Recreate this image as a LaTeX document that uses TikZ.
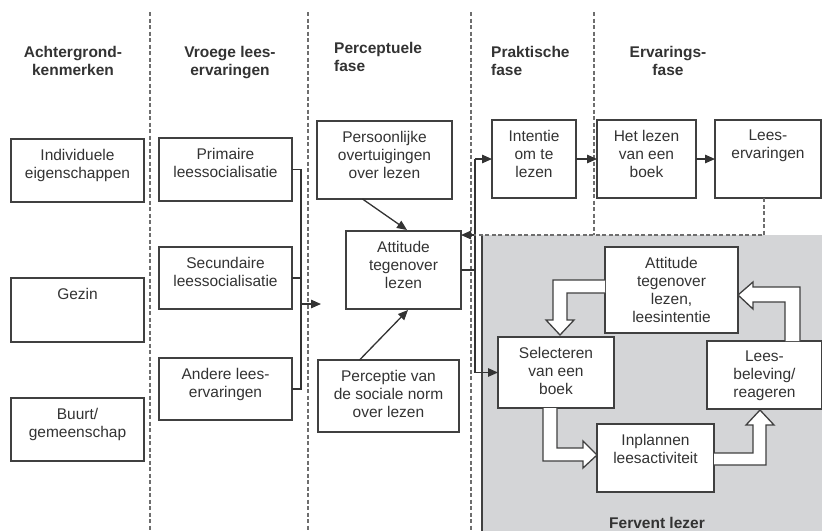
\documentclass[tikz,border=0pt]{standalone}
\usepackage{fontspec}
\setmainfont{Liberation Sans}
\usetikzlibrary{arrows.meta}
\definecolor{ink}{HTML}{333333}
\definecolor{frame}{HTML}{404040}
\definecolor{sep}{HTML}{6E6E6E}
\definecolor{panel}{HTML}{D4D5D7}

% box with its text set near the top: name, x1, y1, x2, y2, text
\newcommand\panelbox[6]{%
  \node[box, minimum width={(#4-#2)*1pt}, minimum height={(#5-#3)*1pt}]
    (#1) at ({(#2+#4)/2},{(#3+#5)/2}) {};
  \node[txt] at ([yshift=-10pt]#1.north) {#6};}

\begin{document}
\begin{tikzpicture}[x=1pt,y=-1pt,
  box/.style={draw=frame, line width=1.5pt, fill=white, inner sep=0pt, outer sep=0pt},
  txt/.style={anchor=north, align=center, inner sep=0pt, text=ink,
    font=\fontsize{15.5}{18}\selectfont},
  head/.style={anchor=north, inner sep=0pt, text=ink,
    font=\fontsize{15.5}{18}\selectfont\bfseries},
  sepline/.style={draw=sep, line width=1.4pt, dash pattern=on 4pt off 2.5pt},
  link/.style={draw=ink, line width=1.3pt},
  arr/.style={link, -{Triangle[length=10pt,width=8.5pt]}},
  blockarrow/.style={draw=frame, line width=1.3pt, fill=white, line join=miter},
]
\useasboundingbox (0,0) rectangle (822,531);
\clip (0,0) rectangle (822,531);

% shaded panel of the fervent reader
\fill[panel] (482,235) rectangle (822,531);
\draw[frame, line width=2pt] (482,235) -- (482,531);

% column separators
\foreach \x in {150,308,471} \draw[sepline] (\x,12) -- (\x,531);
\draw[sepline] (594,12) -- (594,235);

% column headings
\node[head, align=center] at (73,46) {Achtergrond-\\kenmerken};
\node[head, align=center] at (230,46) {Vroege lees-\\ervaringen};
\node[head, align=left, anchor=north west] at (334,42) {Perceptuele\\fase};
\node[head, align=left, anchor=north west] at (491,46) {Praktische\\fase};
\node[head, align=center] at (668,46) {Ervarings-\\fase};

% background characteristics
\panelbox{ind}{11}{139}{144}{202}{Individuele\\eigenschappen}
\panelbox{gez}{11}{278}{144}{342}{Gezin}
\panelbox{buu}{11}{398}{144}{461}{Buurt/\\gemeenschap}

% early reading experiences
\panelbox{prim}{159}{138}{292}{201}{Primaire\\leessocialisatie}
\panelbox{sec}{159}{247}{292}{309}{Secundaire\\leessocialisatie}
\panelbox{and}{159}{358}{292}{420}{Andere lees-\\ervaringen}

% perceptual phase
\panelbox{pers}{317}{121}{452}{199}{Persoonlijke\\overtuigingen\\over lezen}
\panelbox{att}{346}{231}{461}{309}{Attitude\\tegenover\\lezen}
\panelbox{perc}{318}{360}{459}{432}{Perceptie van\\de sociale norm\\over lezen}

% practical and experience phase
\panelbox{int}{492}{120}{576}{198}{Intentie\\om te\\lezen}
\panelbox{hetl}{597}{120}{696}{198}{Het lezen\\van een\\boek}
\panelbox{lees}{715}{120}{821}{198}{Lees-\\ervaringen}

% cycle of the fervent reader
\panelbox{att2}{605}{247}{738}{333}{Attitude\\tegenover\\lezen,\\leesintentie}
\panelbox{sel}{498}{337}{614}{408}{Selecteren\\van een\\boek}
\panelbox{bel}{707}{341}{822}{409}{Lees-\\beleving/\\reageren}
\panelbox{inp}{597}{424}{714}{492}{Inplannen\\leesactiviteit}

\node[head, anchor=base] (fl) at (657,528) {Fervent lezer};

% bracket gathering the early experiences
\coordinate (brk) at (301,304);
\coordinate (brkend) at (321,304);
\draw[link] (prim.east) -| (brk |- and.east) -- (and.east);
\draw[link] (sec.east) -- (sec.east -| brk);
\draw[arr] (brk) -- (brkend);

% beliefs and norm feed the attitude
\draw[arr] (pers.south) ++(-22,0) coordinate (ps) (ps) -- (407,230);
\draw[arr] (perc.north) ++(-29,0) coordinate (pn) (pn) -- (408,310);

% attitude to intention and to selecting a book
\coordinate (hub) at (475,0);
\draw[link] (att.east) -- (att.east -| hub);
\draw[link] (int.west -| hub) -- (sel.west -| hub);
\draw[arr] (int.west -| hub) -- (int.west);
\draw[arr] (sel.west -| hub) -- (sel.west);

% practical and experience chain
\draw[arr] (int.east) -- (hetl.west);
\draw[arr] (hetl.east) -- (lees.west);

% feedback of reading experiences
\draw[sepline] (lees.south -| 764,0) -- (764,235) -- (474,235);
\draw[arr] (474,235) -- (att.east |- 0,235);

% hollow block arrows of the cycle
\draw[blockarrow] (att2.west |- 0,280) -- (553,280) -- (553,320) -- (546,320)
  -- (560,335) -- (574,320) -- (567,320) -- (567,293) -- (att2.west |- 0,293);
\draw[blockarrow] (sel.south -| 543,0) -- (543,461) -- (583,461) -- (583,468)
  -- (inp.west |- 0,455) -- (583,441) -- (583,448) -- (557,448) -- (sel.south -| 557,0);
\draw[blockarrow] (inp.east |- 0,465) -- (766,465) -- (766,425) -- (774,425)
  -- (760,410) -- (746,425) -- (753,425) -- (753,453) -- (inp.east |- 0,453);
\draw[blockarrow] (bel.north -| 800,0) -- (800,287) -- (753,287) -- (753,282)
  -- (att2.east |- 0,295) -- (753,309) -- (753,302) -- (785,302) -- (bel.north -| 785,0);
\end{tikzpicture}
\end{document}
